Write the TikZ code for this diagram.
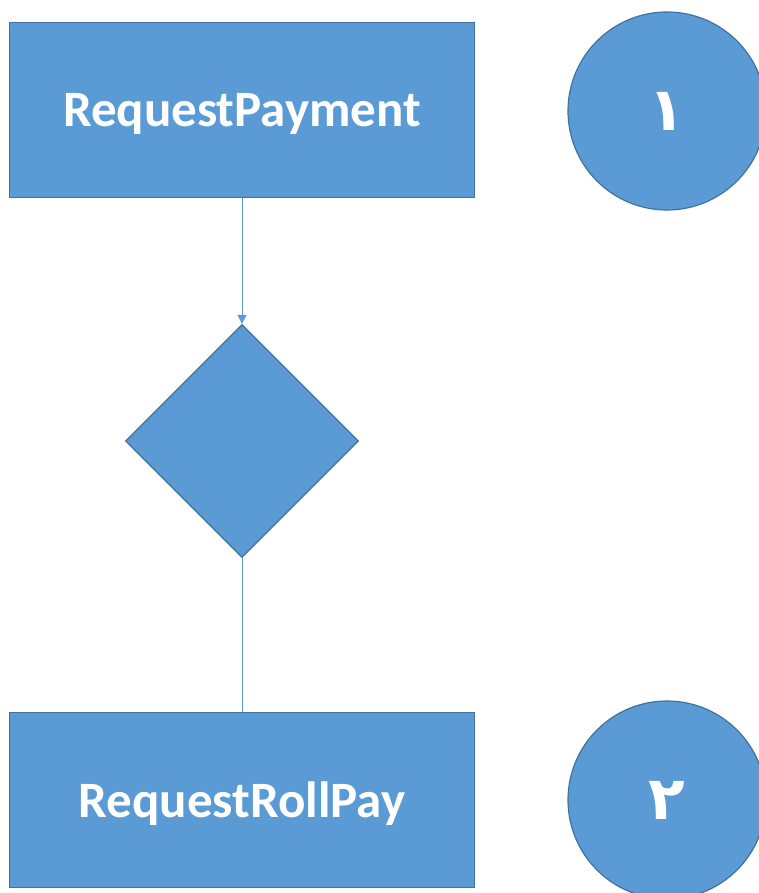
\documentclass[tikz,border=0pt]{standalone}
\usepackage{fontspec}
\setmainfont{Carlito}
\newfontfamily\arabicfont[Script=Arabic]{DejaVu Sans}
\usetikzlibrary{shapes.geometric,arrows.meta,positioning}
\definecolor{boxfill}{HTML}{5B9BD5}
\definecolor{boxline}{HTML}{41719C}
\tikzset{
  stepbox/.style={draw=boxline, fill=boxfill, line width=1.2pt, minimum width=465pt, minimum height=175pt, text depth=0pt, text=white, font=\bfseries\fontsize{51}{51}\selectfont},
  decision/.style={draw=boxline, fill=boxfill, line width=1.2pt, diamond, minimum width=233pt, minimum height=233pt, inner sep=0pt},
  numdot/.style={draw=boxline, fill=boxfill, line width=1.2pt, circle, minimum size=198pt, text=white, font=\arabicfont\bfseries\fontsize{60}{60}\selectfont},
  link/.style={draw=boxfill, line width=1pt}
}
\begin{document}
\begin{tikzpicture}[x=1pt, y=-1pt]
    \useasboundingbox (0,0) rectangle (758,893);

    % boxes
    \node[stepbox] (pay) at (242,110) {RequestPayment};
    \node[stepbox] (roll) at (242,800) {RequestRollPay};

    % decision
    \node[decision] (check) at (242,441) {};

    % numbers
    \node[numdot] (one) at (667,111) {١};
    \node[numdot] (two) at (667,800) {٢};

    % connectors
    \draw[link, -{Triangle[length=9pt, width=9pt]}] (pay) -- (check);
    \draw[link] (check) -- (roll);
\end{tikzpicture}
\end{document}
